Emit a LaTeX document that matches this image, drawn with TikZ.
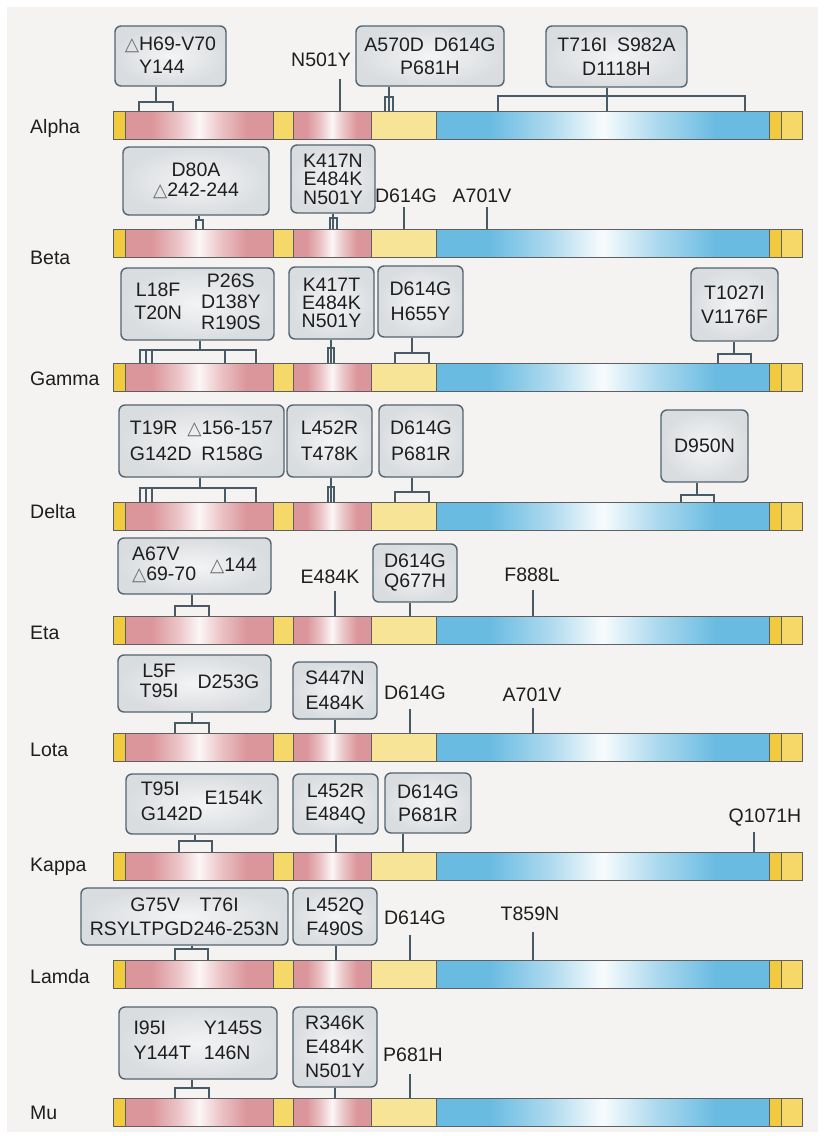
\documentclass[tikz,border=0pt]{standalone}
\usepackage{fontspec}
\setmainfont{Liberation Sans}
\newfontfamily\trifont[Scale=0.95]{DejaVu Sans}
\usepackage{xcolor}
\definecolor{bgc}{RGB}{244,243,241}
\definecolor{pinkc}{RGB}{219,150,155}
\definecolor{bluec}{RGB}{106,187,225}
\definecolor{goldc}{RGB}{242,202,62}
\definecolor{yellmid}{RGB}{245,216,104}
\definecolor{yellpale}{RGB}{247,228,150}
\definecolor{barc}{RGB}{95,95,95}
\definecolor{linec}{RGB}{72,90,102}
\definecolor{boxedge}{RGB}{84,100,112}
\definecolor{boxin}{RGB}{243,244,245}
\definecolor{boxout}{RGB}{218,221,224}
\definecolor{textc}{RGB}{30,30,30}
\definecolor{trigray}{RGB}{110,110,110}
\usepackage{tikz}
\usetikzlibrary{positioning,calc}
\newcommand{\deltri}{{\trifont\color{trigray}\char"25B3}}
\newcommand{\mutsize}{\fontsize{19.5}{22}\selectfont}
\pgfdeclarehorizontalshading{ntdshade}{100bp}{color(0bp)=(pinkc); color(25bp)=(pinkc);
  color(34bp)=(pinkc); color(43bp)=(pinkc!55!white); color(50bp)=(white!92!pinkc);
  color(57bp)=(pinkc!55!white); color(66bp)=(pinkc); color(75bp)=(pinkc); color(100bp)=(pinkc)}
\pgfdeclarehorizontalshading{s2shade}{100bp}{color(0bp)=(bluec); color(25bp)=(bluec);
  color(33bp)=(bluec); color(42bp)=(bluec!55!white); color(50bp)=(white!95!bluec);
  color(58bp)=(bluec!55!white); color(67bp)=(bluec); color(75bp)=(bluec); color(100bp)=(bluec)}
\tikzset{
  mutbox/.style  ={rectangle,rounded corners=6pt,draw=boxedge,line width=1.4pt,
                   inner color=boxin,outer color=boxout,align=center,inner sep=0pt,
                   text=textc,font=\mutsize},
  mutlabel/.style={inner sep=0pt,text=textc,font=\mutsize},
  rowname/.style ={anchor=west,inner sep=0pt,text=textc,font=\mutsize},
  mutline/.style ={draw=linec,line width=1.2pt},
  barseg/.style  ={draw=barc,line width=0.9pt},
}

\begin{document}
\begin{tikzpicture}[x=1pt,y=-1pt]
  \useasboundingbox (0,0) rectangle (824,1136);
  \fill[white] (0,0) rectangle (824,1136);
  \fill[bgc] (7,7) rectangle (818,1132);

  % ---- spike bars ------------------------------------------------------
  \foreach \yy in {111,229,363,502,616,733,852,960,1098}{
    \filldraw[barseg,fill=goldc] (113,\yy) rectangle (125,\yy+28);
    \shadedraw[barseg,shading=ntdshade] (125,\yy) rectangle (273,\yy+28);
    \filldraw[barseg,fill=yellmid] (273,\yy) rectangle (293,\yy+28);
    \shadedraw[barseg,shading=ntdshade] (293,\yy) rectangle (371,\yy+28);
    \filldraw[barseg,fill=yellpale] (371,\yy) rectangle (436,\yy+28);
    \shadedraw[barseg,shading=s2shade] (436,\yy) rectangle (769,\yy+28);
    \filldraw[barseg,fill=goldc] (769,\yy) rectangle (781,\yy+28);
    \filldraw[barseg,fill=yellmid] (781,\yy) rectangle (802,\yy+28);
  }

  % ---- variant names ---------------------------------------------------
  \node[rowname] (rAlpha) at (30,128)  {Alpha};
  \node[rowname] (rBeta)  at (30,258)  {Beta};
  \node[rowname] (rGamma) at (30,379)  {Gamma};
  \node[rowname] (rDelta) at (30,512)  {Delta};
  \node[rowname] (rEta)   at (30,633)  {Eta};
  \node[rowname] (rLota)  at (30,750)  {Lota};
  \node[rowname] (rKappa) at (30,867)  {Kappa};
  \node[rowname] (rLamda) at (30,977)  {Lamda};
  \node[rowname] (rMu)    at (30,1113) {Mu};

  % ---- Alpha -----------------------------------------------------------
  \node[mutbox,align=left,minimum width=111pt,minimum height=60pt] (a1) at (170.5,56)
    {\deltri H69-V70\\[1pt]\phantom{\deltri}Y144};
  \coordinate (a69) at (139,111); \coordinate (a144) at (173,111); \coordinate (a1k) at (156,102);
  \draw[mutline] (a1.south -| a1k) -- (a1k);
  \draw[mutline] (a69) |- (a1k) -| (a144);
  \node[mutlabel] (aN501) at (321,60) {N501Y};
  \coordinate (a501) at (340,111);
  \draw[mutline,shorten <=12pt] (a501 |- aN501.south) -- (a501);
  \node[mutbox,minimum width=148pt,minimum height=60pt] (a2) at (430,56)
    {A570D\enspace D614G\\[1pt]P681H};
  \coordinate (a570) at (385,111); \coordinate (a614) at (389,111);
  \coordinate (a681) at (393,111); \coordinate (a2k) at (389,97);
  \draw[mutline] (a2.south -| a2k) -- (a2k) -- (a614);
  \draw[mutline] (a570) |- (a2k) -| (a681);
  \node[mutbox,minimum width=141pt,minimum height=61pt] (a3) at (616.5,56.5)
    {T716I\enspace S982A\\[2pt]D1118H};
  \coordinate (a716) at (498,111); \coordinate (a982) at (607,111);
  \coordinate (a1118) at (745,111); \coordinate (a3k) at (607,96);
  \draw[mutline] (a3.south -| a982) -- (a982);
  \draw[mutline] (a716) |- (a3k) -| (a1118);

  % ---- Beta ------------------------------------------------------------
  \node[mutbox,minimum width=146pt,minimum height=68pt] (b1) at (196,181)
    {D80A\\[-2pt]\deltri 242-244};
  \coordinate (b80) at (196,229); \coordinate (b242) at (203,229); \coordinate (b1k) at (199,220);
  \draw[mutline] (b1.south -| b1k) -- (b1k);
  \draw[mutline] (b80) |- (b1k) -| (b242);
  \node[mutbox,minimum width=84pt,minimum height=68pt] (b2) at (333,179)
    {K417N\\[-3.5pt]E484K\\[-3.5pt]N501Y};
  \coordinate (b417) at (330,229); \coordinate (b484) at (333,229);
  \coordinate (b501) at (337,229); \coordinate (b2k) at (333,218);
  \draw[mutline] (b2.south -| b2k) -- (b2k) -- (b484);
  \draw[mutline] (b417) |- (b2k) -| (b501);
  \node[mutlabel] (bD614) at (406,196) {D614G};
  \coordinate (b614) at (404,229);
  \draw[mutline,shorten <=4pt] (b614 |- bD614.south) -- (b614);
  \node[mutlabel] (bA701) at (482,196) {A701V};
  \coordinate (b701) at (487,229);
  \draw[mutline,shorten <=4pt] (b701 |- bA701.south) -- (b701);

  % ---- Gamma -----------------------------------------------------------
  \node[mutbox,minimum width=153pt,minimum height=72pt] (g1) at (197.5,304)
    {\begin{tabular}{@{}c@{}}L18F\\[1pt]T20N\end{tabular}\hspace{19pt}%
     \begin{tabular}{@{}c@{}}P26S\\[-1pt]D138Y\\[-1pt]R190S\end{tabular}};
  \coordinate (g18) at (140,363); \coordinate (g20) at (146,363); \coordinate (g26) at (152,363);
  \coordinate (g138) at (225,363); \coordinate (g190) at (256,363); \coordinate (g1k) at (200,350);
  \draw[mutline] (g1.south -| g1k) -- (g1k);
  \draw[mutline] (g18) |- (g1k) -| (g190);
  \draw[mutline] (g20) -- (g20 |- g1k);
  \draw[mutline] (g26) -- (g26 |- g1k);
  \draw[mutline] (g138) -- (g138 |- g1k);
  \node[mutbox,minimum width=85pt,minimum height=72pt] (g2) at (331.5,303)
    {K417T\\[-4pt]E484K\\[-4pt]N501Y};
  \coordinate (g417) at (328,363); \coordinate (g484) at (331,363);
  \coordinate (g501) at (334,363); \coordinate (g2k) at (331,348);
  \draw[mutline] (g2.south -| g2k) -- (g2k) -- (g484);
  \draw[mutline] (g417) |- (g2k) -| (g501);
  \node[mutbox,minimum width=85pt,minimum height=71pt] (g3) at (420.5,301.5)
    {D614G\\[3pt]H655Y};
  \coordinate (g614) at (395,363); \coordinate (g655) at (429,363); \coordinate (g3k) at (412,353);
  \draw[mutline] (g3.south -| g3k) -- (g3k);
  \draw[mutline] (g614) |- (g3k) -| (g655);
  \node[mutbox,minimum width=87pt,minimum height=73pt] (g4) at (734.5,304.5)
    {T1027I\\[2pt]V1176F};
  \coordinate (g1027) at (718,363); \coordinate (g1176) at (751,363); \coordinate (g4k) at (734,354);
  \draw[mutline] (g4.south -| g4k) -- (g4k);
  \draw[mutline] (g1027) |- (g4k) -| (g1176);

  % ---- Delta -----------------------------------------------------------
  \node[mutbox,align=left,minimum width=165pt,minimum height=72pt] (d1) at (201.5,441)
    {T19R\enspace\deltri 156-157\\[4pt]G142D\enspace R158G};
  \coordinate (d19) at (140,502); \coordinate (d142) at (146,502); \coordinate (d156) at (152,502);
  \coordinate (d157) at (225,502); \coordinate (d158) at (256,502); \coordinate (d1k) at (200,488);
  \draw[mutline] (d1.south -| d1k) -- (d1k);
  \draw[mutline] (d19) |- (d1k) -| (d158);
  \draw[mutline] (d142) -- (d142 |- d1k);
  \draw[mutline] (d156) -- (d156 |- d1k);
  \draw[mutline] (d157) -- (d157 |- d1k);
  \node[mutbox,minimum width=85pt,minimum height=72pt] (d2) at (329.5,441)
    {L452R\\[4pt]T478K};
  \coordinate (d452) at (328,502); \coordinate (d2m) at (331,502);
  \coordinate (d478) at (334,502); \coordinate (d2k) at (331,487);
  \draw[mutline] (d2.south -| d2k) -- (d2k) -- (d2m);
  \draw[mutline] (d452) |- (d2k) -| (d478);
  \node[mutbox,minimum width=84pt,minimum height=72pt] (d3) at (421,441)
    {D614G\\[4pt]P681R};
  \coordinate (d614) at (395,502); \coordinate (d681) at (429,502); \coordinate (d3k) at (412,492);
  \draw[mutline] (d3.south -| d3k) -- (d3k);
  \draw[mutline] (d614) |- (d3k) -| (d681);
  \node[mutbox,minimum width=87pt,minimum height=72pt] (d4) at (704.5,446) {D950N};
  \coordinate (d950l) at (681,502); \coordinate (d950r) at (714,502); \coordinate (d4k) at (697,495);
  \draw[mutline] (d4.south -| d4k) -- (d4k);
  \draw[mutline] (d950l) |- (d4k) -| (d950r);

  % ---- Eta -------------------------------------------------------------
  \node[mutbox,minimum width=153pt,minimum height=56pt] (e1) at (194.5,566)
    {\begin{tabular}{@{}l@{}}A67V\\[-2pt]\deltri 69-70\end{tabular}\hspace{14pt}\deltri 144};
  \coordinate (e67) at (175,616); \coordinate (e144) at (209,616); \coordinate (e1k) at (192,606);
  \draw[mutline] (e1.south -| e1k) -- (e1k);
  \draw[mutline] (e67) |- (e1k) -| (e144);
  \node[mutlabel] (eE484) at (330,577) {E484K};
  \coordinate (e484) at (335,616);
  \draw[mutline,shorten <=7pt] (e484 |- eE484.south) -- (e484);
  \node[mutbox,minimum width=84pt,minimum height=58pt] (e2) at (415,573)
    {D614G\\[-2pt]Q677H};
  \coordinate (e614) at (410,616);
  \draw[mutline] (e2.south -| e614) -- (e614);
  \node[mutlabel] (eF888) at (532,575) {F888L};
  \coordinate (e888) at (533,616);
  \draw[mutline,shorten <=8pt] (e888 |- eF888.south) -- (e888);

  % ---- Lota ------------------------------------------------------------
  \node[mutbox,minimum width=153pt,minimum height=57pt] (i1) at (194.5,683.5)
    {\hspace*{10pt}\begin{tabular}{@{}c@{}}L5F\\[-2pt]T95I\end{tabular}\hspace{19pt}D253G};
  \coordinate (i5) at (175,733); \coordinate (i253) at (209,733); \coordinate (i1k) at (192,723);
  \draw[mutline] (i1.south -| i1k) -- (i1k);
  \draw[mutline] (i5) |- (i1k) -| (i253);
  \node[mutbox,minimum width=84pt,minimum height=57pt] (i2) at (335,690.5)
    {S447N\\[3pt]E484K};
  \coordinate (i484) at (335,733);
  \draw[mutline] (i2.south -| i484) -- (i484);
  \node[mutlabel] (iD614) at (415,693) {D614G};
  \coordinate (i614) at (410,733);
  \draw[mutline,shorten <=9pt] (i614 |- iD614.south) -- (i614);
  \node[mutlabel] (iA701) at (532,695) {A701V};
  \coordinate (i701) at (533,733);
  \draw[mutline,shorten <=6pt] (i701 |- iA701.south) -- (i701);

  % ---- Kappa -----------------------------------------------------------
  \node[mutbox,minimum width=152pt,minimum height=60pt] (k1) at (202,804)
    {\raisebox{-4pt}{\begin{tabular}{@{}l@{}}T95I\\[3pt]G142D\end{tabular}}\hspace{2pt}\raisebox{1pt}{E154K}};
  \coordinate (k95) at (179,852); \coordinate (k154) at (212,852); \coordinate (k1k) at (195,841);
  \draw[mutline] (k1.south -| k1k) -- (k1k);
  \draw[mutline] (k95) |- (k1k) -| (k154);
  \node[mutbox,minimum width=85pt,minimum height=60pt] (k2) at (335.5,804)
    {L452R\\[1pt]E484Q};
  \coordinate (k484) at (336,852);
  \draw[mutline] (k2.south -| k484) -- (k484);
  \node[mutbox,minimum width=86pt,minimum height=60pt] (k3) at (428,803)
    {D614G\\[1pt]P681R};
  \coordinate (k614) at (403,852);
  \draw[mutline] (k3.south -| k614) -- (k614);
  \node[mutlabel] (kQ1071) at (765,818) {Q1071H};
  \coordinate (k1071) at (754,852);
  \draw[mutline,shorten <=5pt] (k1071 |- kQ1071.south) -- (k1071);

  % ---- Lamda -----------------------------------------------------------
  \node[mutbox,minimum width=207pt,minimum height=57pt] (l1) at (184.5,916.5)
    {G75V\quad T76I\\[2pt]RSYLTPGD246-253N};
  \coordinate (l75) at (175,960); \coordinate (l253) at (208,960); \coordinate (l1k) at (192,949);
  \draw[mutline] (l1.south -| l1k) -- (l1k);
  \draw[mutline] (l75) |- (l1k) -| (l253);
  \node[mutbox,minimum width=84pt,minimum height=57pt] (l2) at (335,916.5)
    {L452Q\\[2pt]F490S};
  \coordinate (l452) at (336,960);
  \draw[mutline] (l2.south -| l452) -- (l452);
  \node[mutlabel] (lD614) at (415,918) {D614G};
  \coordinate (l614) at (410,960);
  \draw[mutline,shorten <=10pt] (l614 |- lD614.south) -- (l614);
  \node[mutlabel] (lT859) at (530,914) {T859N};
  \coordinate (l859) at (533,960);
  \draw[mutline,shorten <=11pt] (l859 |- lT859.south) -- (l859);

  % ---- Mu --------------------------------------------------------------
  \node[mutbox,minimum width=158pt,minimum height=72pt] (m1) at (198,1043)
    {\begin{tabular}{@{}l@{\hspace{13pt}}l@{}}I95I & Y145S\\[3pt]Y144T & 146N\end{tabular}};
  \coordinate (m95) at (175,1098); \coordinate (m146) at (209,1098); \coordinate (m1k) at (192,1088);
  \draw[mutline] (m1.south -| m1k) -- (m1k);
  \draw[mutline] (m95) |- (m1k) -| (m146);
  \node[mutbox,minimum width=84pt,minimum height=80pt] (m2) at (335,1047)
    {R346K\\[2pt]E484K\\[2pt]N501Y};
  \coordinate (m484) at (335,1098);
  \draw[mutline] (m2.south -| m484) -- (m484);
  \node[mutlabel] (mP681) at (413,1055) {P681H};
  \coordinate (m681) at (410,1098);
  \draw[mutline,shorten <=12pt] (m681 |- mP681.south) -- (m681);
\end{tikzpicture}
\end{document}
